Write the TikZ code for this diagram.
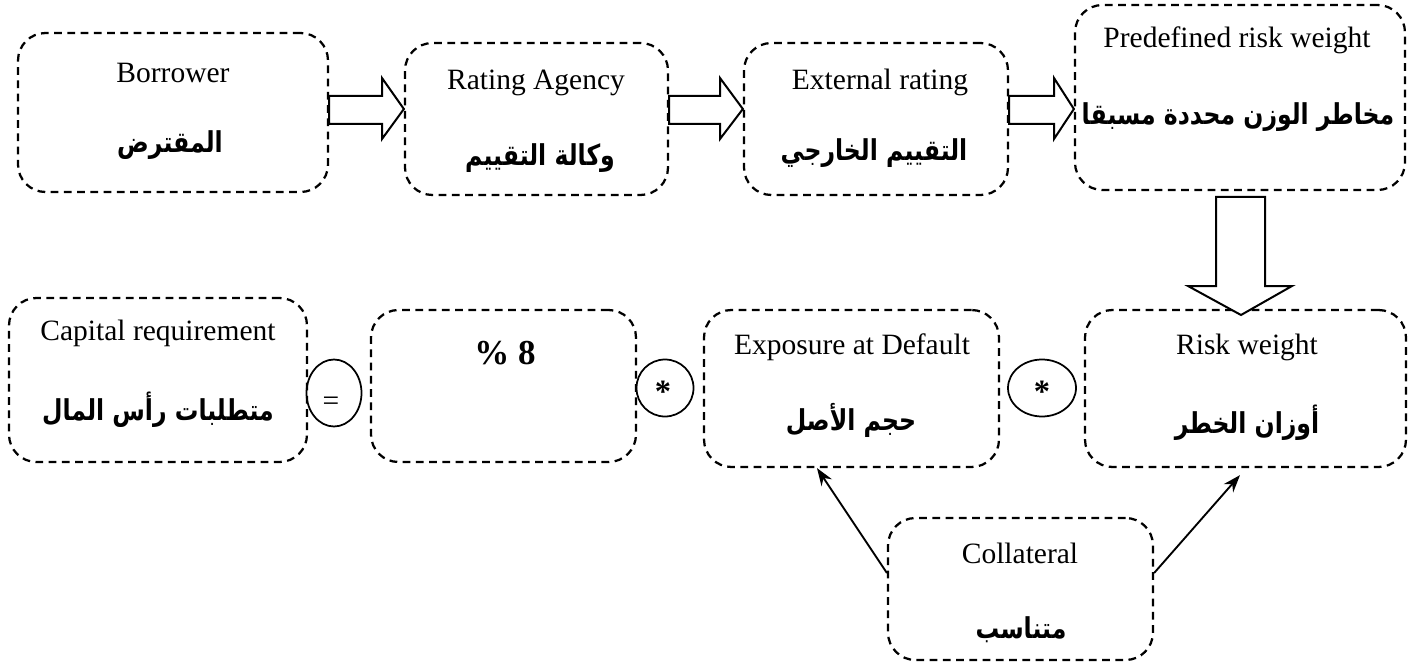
\documentclass[tikz,border=0pt]{standalone}
\usepackage{fontspec}
\setmainfont{Liberation Serif}
\newfontfamily\arabicfont[Script=Arabic,FakeStretch=0.82]{DejaVu Sans}
\TeXXeTstate=1
\usetikzlibrary{shapes.geometric,arrows.meta}
\begin{document}
\begin{tikzpicture}[x=0.4pt,y=-0.4pt,
  box/.style={draw, line width=0.9pt, dash pattern=on 3.1pt off 2.2pt, rounded corners=11pt, inner sep=0pt},
  sz/.style 2 args={minimum width=#1*0.4pt, minimum height=#2*0.4pt},
  lat/.style={inner sep=0pt, font=\fontsize{11.8}{14}\selectfont},
  ar/.style={inner sep=0pt, font=\fontsize{11.5}{13}\selectfont\arabicfont\bfseries},
  opc/.style={draw, ellipse, line width=0.7pt, inner sep=0pt},
  blk/.style={draw, line width=0.8pt, fill=white, line join=miter},
  con/.style={line width=0.75pt, -{Stealth[length=7pt,width=5pt]}}]

\useasboundingbox (0,0) rectangle (1421,666);

% boxes
\node[box, sz={310}{159}] (borrower) at (173,112.5) {};
\node[box, sz={263}{152}] (rating) at (536.5,119) {};
\node[box, sz={264}{152}] (external) at (876,119) {};
\node[box, sz={330}{185}] (predef) at (1240,97.5) {};
\node[box, sz={298}{164}] (capital) at (158,380) {};
\node[box, sz={265}{152}] (eight) at (503.5,386) {};
\node[box, sz={295}{157}] (expo) at (851.5,388.5) {};
\node[box, sz={321}{157}] (risk) at (1245.5,388.5) {};
\node[box, sz={265}{142}] (coll) at (1020.5,589) {};

% texts
\node[lat] (tborrower) at (173,73) {Borrower};
\node[ar] (aborrower) at (170,145) {\beginR المقترض\endR};
\node[lat] (trating) at (536,83) {Rating Agency};
\node[ar] (arating) at (540,158) {\beginR وكالة التقييم\endR};
\node[lat] (texternal) at (880,82) {External rating};
\node[ar] (aexternal) at (874,153) {\beginR التقييم الخارجي\endR};
\node[lat] (tpredef) at (1237,40) {Predefined risk weight};
\node[ar] (apredef) at (1238,117) {\beginR مخاطر الوزن محددة مسبقا\endR};
\node[lat] (tcapital) at (158,333) {Capital requirement};
\node[ar] (acapital) at (158,410) {\beginR متطلبات رأس المال\endR};
\node[inner sep=0pt, font=\fontsize{14}{16}\selectfont\bfseries] (teight) at (505,353) {\% 8};
\node[lat] (texpo) at (852,347) {Exposure at Default};
\node[ar] (aexpo) at (851,420) {\beginR حجم الأصل\endR};
\node[lat] (trisk) at (1247,347) {Risk weight};
\node[ar] (arisk) at (1247,423) {\beginR أوزان الخطر\endR};
\node[lat] (tcoll) at (1020,553) {Collateral};
\node[ar] (acoll) at (1021,630) {\beginR متناسب\endR};

% operator circles
\node[opc, sz={55}{67}] (eq) at (334,393) {};
\node[lat] (teq) at (331,404) {=};
\node[opc, sz={57}{57}] (st1) at (665,388) {};
\node[inner sep=0pt, font=\fontsize{13}{14}\selectfont\bfseries] (tst1) at (663,392) {*};
\node[opc, sz={68}{57}] (st2) at (1042,388) {};
\node[inner sep=0pt, font=\fontsize{13}{14}\selectfont\bfseries] (tst2) at (1042,392) {*};

% block arrows
\draw[blk] (borrower.east |- 0,96) -- (382,96) -- (382,78) -- (rating.west |- 0,109)
  -- (382,139) -- (382,124) -- (borrower.east |- 0,124) -- cycle;
\draw[blk] (rating.east |- 0,96) -- (720,96) -- (720,78) -- (external.west |- 0,109)
  -- (720,139) -- (720,124) -- (rating.east |- 0,124) -- cycle;
\draw[blk] (external.east |- 0,96) -- (1054,96) -- (1054,78) -- (predef.west |- 0,109)
  -- (1054,139) -- (1054,124) -- (external.east |- 0,124) -- cycle;
\draw[blk] (1216,197) -- (1265,197) -- (1265,286) -- (1292,286) -- (1241,315)
  -- (1188,286) -- (1216,286) -- cycle;

% connectors from collateral
\draw[con] ([yshift=6.4pt]coll.west) -- ([xshift=-13.8pt]expo.south);
\draw[con] ([yshift=6.4pt]coll.east) -- ([xshift=-2.2pt,yshift=-2.8pt]risk.south);
\end{tikzpicture}
\end{document}
